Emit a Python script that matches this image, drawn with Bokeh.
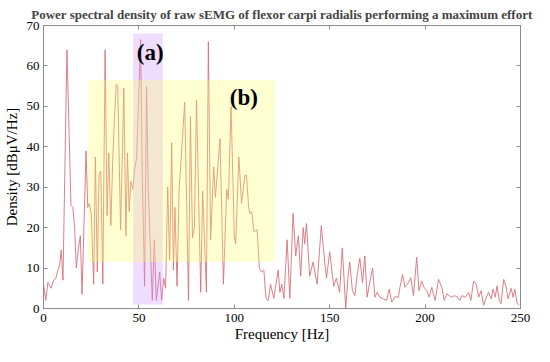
from bokeh.plotting import figure
from bokeh.models import Range1d, LinearAxis, Label, FixedTicker, CustomJSTickFormatter
from bokeh.embed import file_html
from bokeh.resources import INLINE

# ---- data ----
freq_hz = [0, 1.2, 2.3, 4.0, 5.3, 6.5, 7.5, 8.4, 9.3, 10.2, 12.3, 14.4, 15.4, 16.3, 17.2, 18.2,
           19.3, 20.2, 22.3, 23.2, 24.0, 25.1, 26.3, 27.2, 28.2, 29.1, 30.0, 31.1, 32.3, 33.3,
           34.2, 35.3, 36.3, 37.2, 38.1, 38.9, 40.4, 42.1, 43.2, 44.0, 44.9, 45.8, 46.8, 47.9,
           48.8, 50.9, 51.8, 53.0, 54.0, 54.9, 57.0, 58.1, 59.1, 60.9, 61.9, 63.0, 64.0, 65.1,
           66.1, 67.2, 68.1, 68.9, 70.0, 71.1, 71.9, 73.2, 74.0, 76.0, 77.0, 78.1, 79.1, 80.2,
           82.4, 83.4, 85.4, 86.4, 87.6, 89.2, 90.1, 92.5, 94.3, 96.0, 96.9, 98.3, 100.0, 100.7,
           102.4, 103.8, 105.6, 106.4, 107.5, 108.2, 109.1, 110.3, 112.0, 113.1, 114.3, 115.5,
           116.6, 117.8, 119.0, 120.7, 123.0, 123.9, 124.9, 126.0, 127.7, 129.1, 130.8, 132.2,
           133.6, 134.8, 136.1, 136.9, 137.8, 139.5, 141.3, 143.4, 145.6, 147.4, 148.3, 150.0,
           152.1, 153.5, 155.2, 156.6, 158.4, 159.6,
           160.5, 161.9, 163.2, 164.4, 165.8, 167.2, 168.4, 169.6, 171.1, 172.5, 173.7, 174.9,
           176.3, 178.1, 179.8, 181.2, 182.5, 184.2, 186.0, 186.8, 188.2, 189.5, 190.7, 192.5,
           193.9, 195.6, 196.8, 198.2, 199.5, 200.9, 202.1, 203.5, 205.3, 207.0, 208.8, 210.0,
           211.4, 212.6, 214.0, 215.3, 216.7, 218.1, 219.3, 221.1, 222.8, 224.0, 225.4, 226.8,
           228.1, 229.3, 230.7, 232.1, 233.3, 234.6, 235.6, 236.8, 237.7, 238.9, 239.8, 241.2,
           242.5, 243.5, 245.1, 246.1, 247.0, 248.2, 249.1]
density = [6, 2, 6.5, 5, 7, 7.5, 9.5, 10.5, 14.5, 7, 64, 25.5, 25, 20, 10, 14.5,
           18, 3.5, 39, 25, 26, 23, 6, 37.5, 9, 33, 34, 6, 64, 23,
           38.5, 20.5, 37, 47, 55.5, 55, 19.5, 54.5, 18, 38.5, 24, 31.5, 29.5, 35,
           37, 66.5, 32, 5.5, 55, 30, 2, 17, 2, 9, 2, 7.5, 5, 30,
           12, 41, 9.5, 25, 5.5, 30, 35, 45, 51, 2, 47.5, 17.5, 20, 51.5,
           4, 29, 4, 66, 17, 35, 27.5, 42, 6, 29.5, 27, 50, 18, 16,
           37.5, 26, 33, 33, 25, 23.5, 24, 19, 19.5, 10, 9, 9.5,
           2.5, 2, 6, 2.5, 9.5, 4, 6, 2.5, 17, 2.5, 23.5, 13,
           18, 8, 20, 16, 21, 8, 11.5, 6, 20.5, 11.5, 7.5, 14,
           5.5, 7.5, 4, 15, 0, 8,
           11.5, 4.4, 3.2, 8.4, 12.4, 6.4, 13, 2.8, 6.8, 10, 2.8, 4,
           2.8, 2.4, 2, 4.8, 1.6, 2.9, 2.8, 5.2, 8.4, 5.2, 6, 7.6,
           3.2, 12.7, 4.4, 6.8, 5.2, 4.4, 2.8, 5.2, 2, 7.2, 5.2, 2,
           3.6, 3.2, 2.8, 3.2, 2.9, 2, 3.2, 2.8, 4, 2, 6.8, 6,
           2.8, 4.4, 0.8, 2.8, 4, 2.4, 4.8, 2.8, 5.6, 2, 1.2, 7.2,
           5.2, 2.4, 5, 2.8, 4.8, 1.4, 0.8]

# highlighted regions: (a) and (b)
region_names = ["(a)", "(b)"]
region_left = [47.0, 23.3]
region_right = [62.5, 121.4]
region_bottom = [1.0, 11.5]
region_top = [68.0, 56.5]
label_x = [55.9, 105.0]
label_y = [63.4, 52.2]

x_ticks = [0, 50, 100, 150, 200, 250]
y_ticks = [0, 10, 20, 30, 40, 50, 60, 70]

SERIF = "Liberation Serif"
AXIS_COLOR = "#8c8c8c"

p = figure(width=534, height=346, output_backend="svg", toolbar_location=None,
           x_range=Range1d(0, 250), y_range=Range1d(0, 70),
           title="Power spectral density of raw sEMG of flexor carpi radialis performing a maximum effort",
           min_border_left=42, min_border_right=14, min_border_top=20, min_border_bottom=38)

p.title.text_font = SERIF
p.title.text_font_style = "bold"
p.title.text_font_size = "13px"
p.title.align = "center"
p.title.standoff = 8

p.grid.visible = False
p.outline_line_color = AXIS_COLOR

p.line(freq_hz, density, line_color="#d9707c", line_width=0.9)

# purple (a) then yellow (b) on top
p.quad(left=[region_left[0]], right=[region_right[0]], bottom=[region_bottom[0]], top=[region_top[0]],
       fill_color="#cc99ff", fill_alpha=0.33, line_color=None)
p.quad(left=[region_left[1]], right=[region_right[1]], bottom=[region_bottom[1]], top=[region_top[1]],
       fill_color="#ffff66", fill_alpha=0.3, line_color=None)

for name, lx, ly in zip(region_names, label_x, label_y):
    p.add_layout(Label(x=lx, y=ly, text=name, text_font=SERIF, text_font_style="bold",
                       text_font_size="23px", text_align="center", text_baseline="middle",
                       text_color="black"))

def style_axis(ax):
    ax.axis_line_color = AXIS_COLOR
    ax.major_tick_line_color = AXIS_COLOR
    ax.major_tick_in = 4
    ax.major_tick_out = 0
    ax.minor_tick_line_color = None
    ax.major_label_text_font = SERIF
    ax.major_label_text_font_size = "13px"
    ax.major_label_text_color = "black"
    ax.axis_label_text_font = SERIF
    ax.axis_label_text_font_size = "15px"
    ax.axis_label_text_font_style = "normal"
    ax.axis_label_text_color = "black"

p.xaxis.ticker = FixedTicker(ticks=x_ticks)
p.yaxis.ticker = FixedTicker(ticks=y_ticks)
p.xaxis.axis_label = "Frequency [Hz]"
p.yaxis.axis_label = "Density [dBμV/Hz]"
style_axis(p.xaxis[0])
style_axis(p.yaxis[0])
p.xaxis.major_label_standoff = 5
p.xaxis.axis_label_standoff = 1
p.yaxis.major_label_standoff = 4
p.yaxis.axis_label_standoff = 4

top_ax = LinearAxis(ticker=FixedTicker(ticks=x_ticks))
right_ax = LinearAxis(ticker=FixedTicker(ticks=y_ticks))
for ax in (top_ax, right_ax):
    style_axis(ax)
    ax.formatter = CustomJSTickFormatter(code="return ''")
    ax.major_label_text_color = None
    ax.major_label_standoff = 0
p.add_layout(top_ax, "above")
p.add_layout(right_ax, "right")

open("out.html", "w").write(file_html(p, INLINE))
